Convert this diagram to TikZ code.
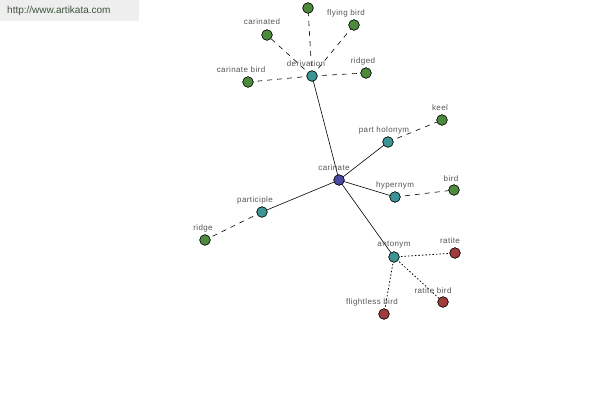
\documentclass[tikz,border=0pt]{standalone}
\usepackage{fontspec}
\setmainfont{Liberation Sans}
\newfontfamily\labfont[LetterSpace=5]{Liberation Sans}
\begin{document}
\begin{tikzpicture}[x=1pt,y=-1pt,
  dot/.style={circle,draw=black,line width=0.5pt,minimum size=10.5pt,inner sep=0pt},
  green/.style={dot,fill=ngreen},
  teal/.style={dot,fill=nteal},
  core/.style={dot,fill=nblue},
  red/.style={dot,fill=nred},
  lab/.style={font=\labfont\fontsize{8}{9}\selectfont,text=labgray,inner sep=0pt},
  rel/.style={draw=black,line width=0.6pt},
  dsh/.style={draw=black,line width=0.6pt,dash pattern=on 5pt off 5pt},
  dtt/.style={draw=black,line width=0.8pt,dash pattern=on 1.5pt off 2pt}]
\definecolor{ngreen}{HTML}{4E8A3E}
\definecolor{nteal}{HTML}{3E9494}
\definecolor{nblue}{HTML}{4A4AA0}
\definecolor{nred}{HTML}{A03C3C}
\definecolor{labgray}{HTML}{555555}
\definecolor{wmfill}{HTML}{EEEEEE}
\definecolor{wmtext}{HTML}{3C553C}
\useasboundingbox (0,0) rectangle (600,400);
\fill[white] (0,0) rectangle (600,400);
\node[fill=wmfill,minimum width=139pt,minimum height=21pt,anchor=north west,inner sep=0pt] (wm) at (0,0) {};
\node[font=\fontsize{10}{11}\selectfont,text=wmtext,anchor=west,inner sep=0pt] (wmt) at (7,11) {http://www.artikata.com};
% nodes
\node[core] (car) at (339,180) {};
\node[teal] (der) at (312,76) {};
\node[teal] (ph) at (388,142) {};
\node[teal] (hyp) at (395,197) {};
\node[teal] (par) at (262,212) {};
\node[teal] (ant) at (394,257) {};
\node[green] (top) at (308,8) {};
\node[green] (cted) at (267,35) {};
\node[green] (fly) at (354,25) {};
\node[green] (rdg) at (366,73) {};
\node[green] (cb) at (248,82) {};
\node[green] (keel) at (442,120) {};
\node[green] (bird) at (454,190) {};
\node[green] (ridge) at (205,240) {};
\node[red] (rat) at (455,253) {};
\node[red] (ratb) at (443,302) {};
\node[red] (fb) at (384,314) {};
% edges
\path[rel] (car.center) -- (der.center) (car.center) -- (ph.center) (car.center) -- (hyp.center) (car.center) -- (par.center) (car.center) -- (ant.center);
\path[dsh] (der.center) -- (top.center) (der.center) -- (cted.center) (der.center) -- (fly.center) (der.center) -- (rdg.center) (der.center) -- (cb.center)
  (ph.center) -- (keel.center) (hyp.center) -- (bird.center) (par.center) -- (ridge.center);
\path[dtt] (ant.center) -- (rat.center) (ant.center) -- (ratb.center) (ant.center) -- (fb.center);
% redraw nodes on top of edges
\foreach \n/\s in {car/core,der/teal,ph/teal,hyp/teal,par/teal,ant/teal,top/green,cted/green,fly/green,rdg/green,cb/green,keel/green,bird/green,ridge/green,rat/red,ratb/red,fb/red}{
  \node[\s] at (\n) {};
}
% labels
\node[lab] (lcar) at (334,168) {carinate};
\node[lab] (lder) at (306,64) {derivation};
\node[lab] (lph) at (384,130) {part holonym};
\node[lab] (lhyp) at (395,185) {hypernym};
\node[lab] (lpar) at (255,200) {participle};
\node[lab] (lant) at (394,245) {antonym};
\node[lab] (lcted) at (262,22) {carinated};
\node[lab] (lfly) at (346,13) {flying bird};
\node[lab] (lrdg) at (363,61) {ridged};
\node[lab] (lcb) at (241,70) {carinate bird};
\node[lab] (lkeel) at (440,108) {keel};
\node[lab] (lbird) at (451,179) {bird};
\node[lab] (lridge) at (203,228) {ridge};
\node[lab] (lrat) at (450,241) {ratite};
\node[lab] (lratb) at (433,291) {ratite bird};
\node[lab] (lfb) at (372,302) {flightless bird};
\end{tikzpicture}
\end{document}
